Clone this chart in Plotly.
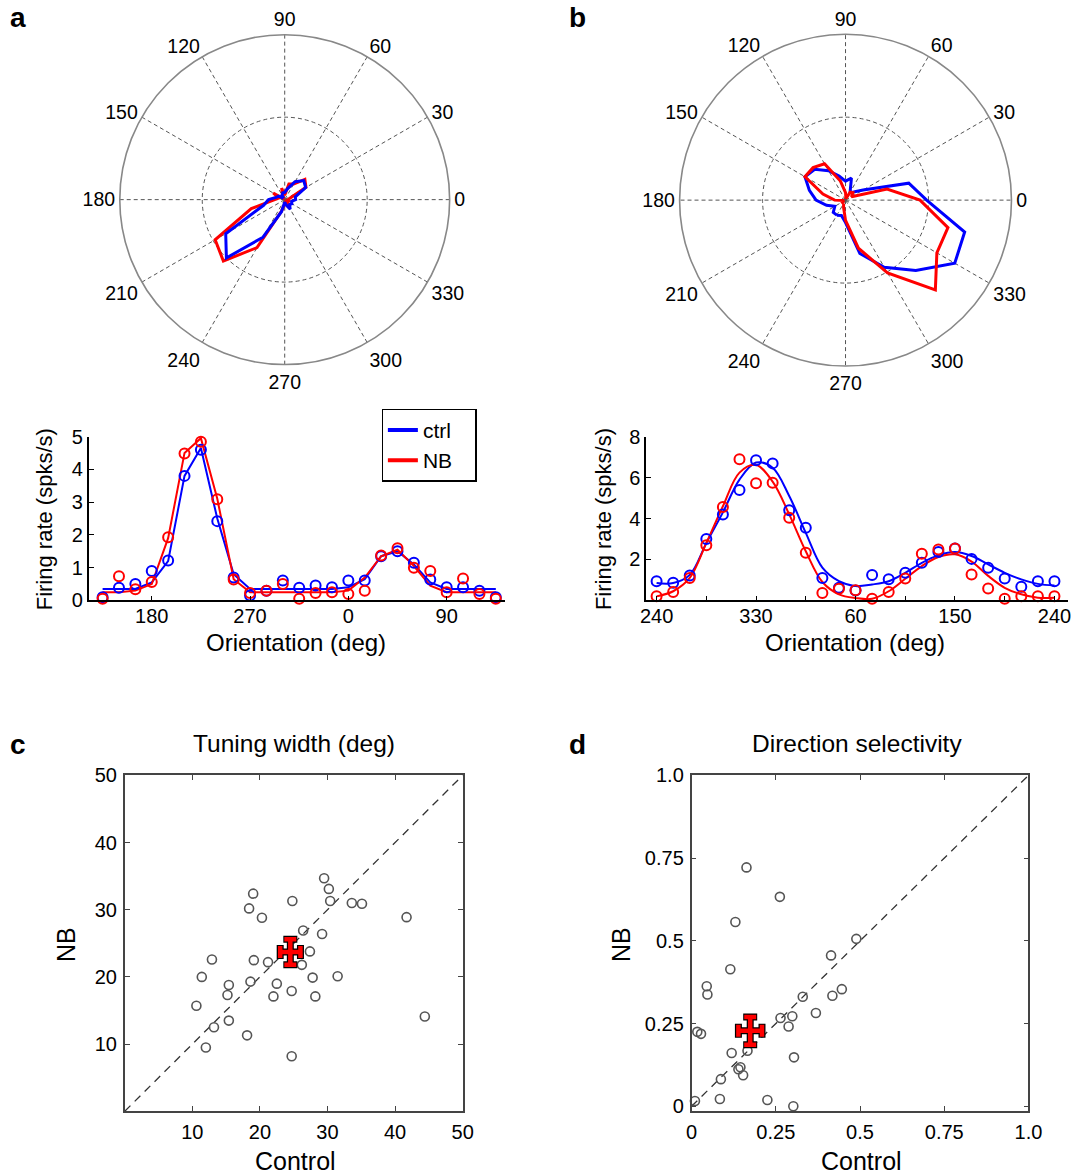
import plotly.graph_objects as go

# Figure size in CSS px and a calibration that maps positions measured on the
# reference picture to figure pixels (measured from the previous renders).
FW, FH = 1092, 1197
AX, AY, S = 6.2, 11.3, 0.982
FONT = "Liberation Sans, Arial, Helvetica, sans-serif"
BLUE, RED = "#0000ff", "#ff0000"
NBSP = "\u00a0"

# ---------------- data ----------------
# panel a : orientations (deg, unwrapped) and firing rates
dirs_a = [135, 150, 165, 180, 195, 210, 225, 240, 255, 270, 285, 300, 315,
          330, 345, 360, 375, 390, 405, 420, 435, 450, 465, 480, 495]
ctrl_a_pts = [0.10, 0.39, 0.50, 0.90, 1.22, 3.80, 4.60, 2.42, 0.70, 0.15, 0.30, 0.61, 0.39,
              0.46, 0.40, 0.61, 0.61, 1.35, 1.50, 1.15, 0.64, 0.40, 0.40, 0.30, 0.10]
nb_a_pts = [0.05, 0.74, 0.34, 0.56, 1.93, 4.48, 4.84, 3.09, 0.64, 0.23, 0.30, 0.50, 0.05,
            0.23, 0.25, 0.20, 0.30, 1.37, 1.59, 1.00, 0.90, 0.25, 0.67, 0.20, 0.05]
ctrl_a_fit = [0.35, 0.35, 0.35, 0.55, 1.20, 3.80, 4.65, 2.50, 0.80, 0.35, 0.35, 0.35, 0.35,
              0.35, 0.35, 0.40, 0.65, 1.35, 1.50, 1.10, 0.55, 0.35, 0.35, 0.35, 0.35]
nb_a_fit = [0.25, 0.25, 0.30, 0.50, 1.90, 4.50, 4.95, 3.10, 0.65, 0.25, 0.25, 0.25, 0.25,
            0.25, 0.25, 0.30, 0.70, 1.35, 1.55, 1.05, 0.45, 0.25, 0.25, 0.25, 0.25]
ticks_a = [180, 270, 360, 450]
ticktext_a = ["180", "270", "0", "90"]

# panel b
dirs_b = [240, 255, 270, 285, 300, 315, 330, 345, 360, 375, 390, 405, 420,
          435, 450, 465, 480, 495, 510, 525, 540, 555, 570, 585, 600]
ctrl_b_pts = [0.94, 0.86, 1.22, 3.00, 4.20, 5.39, 6.84, 6.69, 4.40, 3.55, 1.10, 0.62, 0.49,
              1.24, 1.03, 1.35, 1.84, 2.36, 2.54, 2.03, 1.60, 1.07, 0.67, 0.94, 0.94]
nb_b_pts = [0.21, 0.41, 1.10, 2.70, 4.56, 6.89, 5.72, 5.75, 4.04, 2.33, 0.37, 0.57, 0.50,
            0.08, 0.41, 1.07, 2.28, 2.49, 2.54, 1.27, 0.59, 0.08, 0.21, 0.21, 0.21]
ctrl_b_fit = [0.85, 0.85, 1.25, 2.80, 4.30, 5.90, 6.73, 6.48, 5.10, 3.30, 1.60, 0.94, 0.70,
              0.78, 0.94, 1.35, 1.84, 2.20, 2.36, 2.17, 1.76, 1.35, 1.03, 0.81, 0.73]
nb_b_fit = [0.20, 0.45, 1.10, 2.80, 4.60, 6.24, 6.61, 5.80, 4.20, 2.40, 0.90, 0.30, 0.12,
            0.08, 0.45, 1.06, 1.68, 2.12, 2.25, 1.90, 1.20, 0.62, 0.30, 0.13, 0.13]
ticks_b = [240, 330, 420, 510, 600]
ticktext_b = ["240", "330", "60", "150", "240"]
minor_b = [285, 375, 465, 555]

# legend
legend_names = ["ctrl", "NB"]
legend_colors = [BLUE, RED]

# polar plots
polar_angles = [0, 30, 60, 90, 120, 150, 180, 210, 240, 270, 300, 330]
rmax_a, rmax_b = 9.2, 9.0

# panel c : tuning width (deg)
tw_ctrl = [29.5, 19.0, 30.2, 24.8, 30.4, 33.6, 35.1, 18.4, 20.3, 41.7, 26.4, 29.2, 12.9, 19.1,
           21.2, 27.4, 26.2, 11.4, 27.8, 31.5, 18.6, 22.5, 15.4, 15.2, 24.7, 22.0, 28.2, 10.6,
           44.4, 15.4, 13.2, 18.1, 12.0, 24.7]
tw_nb = [34.7, 32.4, 33.1, 31.3, 31.3, 31.0, 30.9, 30.2, 28.8, 28.9, 26.9, 26.4, 22.6, 22.5,
         22.2, 23.8, 21.8, 20.0, 19.9, 20.1, 19.3, 19.0, 18.8, 17.3, 17.9, 17.1, 17.1, 15.7,
         14.1, 13.5, 12.5, 11.3, 9.5, 8.2]
tw_mean = [24.5, 23.7]
tw_sem = [1.5, 1.9]
tw_lim = [0, 50]
tw_ticks = [10, 20, 30, 40, 50]

# panel d : direction selectivity
ds_ctrl = [0.163, 0.262, 0.130, 0.489, 0.115, 0.414, 0.045, 0.047, 0.446, 0.418, 0.330, 0.369,
           0.299, 0.264, 0.288, 0.017, 0.028, 0.119, 0.166, 0.304, 0.145, 0.139, 0.153, 0.087,
           0.010, 0.084, 0.225, 0.302]
ds_nb = [0.722, 0.633, 0.557, 0.506, 0.414, 0.456, 0.363, 0.338, 0.354, 0.334, 0.331, 0.282,
         0.272, 0.267, 0.241, 0.225, 0.219, 0.161, 0.168, 0.148, 0.118, 0.112, 0.094, 0.082,
         0.016, 0.022, 0.019, 0.000]
ds_mean = [0.174, 0.228]
ds_sem = [0.035, 0.042]
ds_lim = [0, 1]
ds_ticks = [0, 0.25, 0.5, 0.75, 1.0]
ds_ticktext = ["0", "0.25", "0.5", "0.75", "1.0"]


# ---------------- helpers (reference-picture pixels -> paper fractions) ----------------
def px(x):
    return (x - AX) / S


def py(y):
    return (y - AY) / S


def clamp(v):
    return max(0.0, min(1.0, v))


def dx(a, b):
    return [clamp(px(a) / FW), clamp(px(b) / FW)]


def dy(top, bottom):
    return [clamp(1 - py(bottom) / FH), clamp(1 - py(top) / FH)]


def axis_range(t0, v0, t1, v1, left, right):
    """data range of an axis whose ticks v0, v1 sit at picture x t0, t1 and
    whose line runs from picture x `left` to `right`"""
    k = (v1 - v0) / (px(t1) - px(t0))
    return [v0 - (px(t0) - px(left)) * k, v1 + (px(right) - px(t1)) * k]


fig = go.Figure()


def polar_trace(dirs, vals, color, subplot):
    th = [d % 360 for d in dirs[:-1]] + [dirs[0] % 360]
    r = list(vals[:-1]) + [vals[0]]
    fig.add_trace(go.Scatterpolar(r=r, theta=th, mode="lines", subplot=subplot,
                                  line=dict(color=color, width=3), showlegend=False,
                                  hoverinfo="skip"))


polar_trace(dirs_a, nb_a_pts, RED, "polar")
polar_trace(dirs_a, ctrl_a_pts, BLUE, "polar")
polar_trace(dirs_b, ctrl_b_pts, BLUE, "polar2")
polar_trace(dirs_b, nb_b_pts, RED, "polar2")


def tuning(dirs, ctrl_pts, nb_pts, ctrl_fit, nb_fit, xa, ya, shape):
    for fit, col, nm in ((ctrl_fit, BLUE, "ctrl"), (nb_fit, RED, "NB")):
        fig.add_trace(go.Scatter(x=dirs, y=fit, mode="lines", xaxis=xa, yaxis=ya,
                                 line=dict(color=col, width=2, shape=shape), name=nm,
                                 showlegend=False, cliponaxis=False))
    for pts, col, nm in ((ctrl_pts, BLUE, "ctrl"), (nb_pts, RED, "NB")):
        fig.add_trace(go.Scatter(x=dirs, y=pts, mode="markers", xaxis=xa, yaxis=ya,
                                 marker=dict(symbol="circle-open", size=10, color=col,
                                             line=dict(width=2, color=col)),
                                 name=nm, showlegend=False, cliponaxis=False))


tuning(dirs_a, ctrl_a_pts, nb_a_pts, ctrl_a_fit, nb_a_fit, "x", "y", "linear")
tuning(dirs_b, ctrl_b_pts, nb_b_pts, ctrl_b_fit, nb_b_fit, "x2", "y2", "spline")

# legend-only entries (thick line samples as in the reference)
for nm, col in zip(legend_names, legend_colors):
    fig.add_trace(go.Scatter(x=[None], y=[None], mode="lines", xaxis="x", yaxis="y",
                             line=dict(color=col, width=4), name=nm + NBSP * 3,
                             showlegend=True))


def scatter_panel(xs, ys, mean, sem, lim, xa, ya):
    fig.add_trace(go.Scatter(x=lim, y=lim, mode="lines", xaxis=xa, yaxis=ya,
                             line=dict(color="#333333", width=1.3, dash="8px,6px"),
                             showlegend=False, hoverinfo="skip"))
    fig.add_trace(go.Scatter(x=xs, y=ys, mode="markers", xaxis=xa, yaxis=ya,
                             marker=dict(symbol="circle-open", size=9, color="#555555",
                                         line=dict(width=1.6, color="#555555")),
                             showlegend=False, cliponaxis=False))
    fig.add_trace(go.Scatter(x=[mean[0]], y=[mean[1]], mode="markers", xaxis=xa, yaxis=ya,
                             marker=dict(size=1, color="black"),
                             error_x=dict(type="data", array=[sem[0]], color="black",
                                          thickness=7, width=7),
                             error_y=dict(type="data", array=[sem[1]], color="black",
                                          thickness=7, width=7),
                             showlegend=False, cliponaxis=False))
    fig.add_trace(go.Scatter(x=[mean[0]], y=[mean[1]], mode="markers", xaxis=xa, yaxis=ya,
                             marker=dict(size=1, color=RED),
                             error_x=dict(type="data", array=[sem[0]], color=RED,
                                          thickness=4.5, width=6),
                             error_y=dict(type="data", array=[sem[1]], color=RED,
                                          thickness=4.5, width=6),
                             showlegend=False, cliponaxis=False))


scatter_panel(tw_ctrl, tw_nb, tw_mean, tw_sem, tw_lim, "x3", "y3")
scatter_panel(ds_ctrl, ds_nb, ds_mean, ds_sem, ds_lim, "x4", "y4")

# ---------------- layout ----------------
tick_font = dict(family=FONT, size=20, color="black")
polar_font = dict(family=FONT, size=19.5, color="black")


def polar_layout(xd, yd, rmax):
    return dict(
        domain=dict(x=xd, y=yd), bgcolor="white",
        angularaxis=dict(rotation=0, direction="counterclockwise", tickmode="array",
                         tickvals=polar_angles, ticktext=[str(a) for a in polar_angles],
                         showline=True, linecolor="#888888", linewidth=1.6,
                         showgrid=True, gridcolor="#555555", gridwidth=1.3,
                         griddash="4px,3px", ticks="", tickfont=polar_font),
        radialaxis=dict(range=[0, rmax], tickvals=[rmax / 2], showticklabels=False,
                        ticks="", showline=False, showgrid=True, gridcolor="#555555",
                        gridwidth=1.3, griddash="4px,3px"),
    )


line_ax = dict(showline=True, linecolor="black", linewidth=1.6, ticks="inside", ticklen=5,
               tickcolor="black", showgrid=False, zeroline=False, tickfont=tick_font,
               mirror=False)
box_ax = dict(showline=True, linecolor="#444444", linewidth=1.6, ticks="inside", ticklen=5,
              tickcolor="#444444", showgrid=False, zeroline=False, tickfont=tick_font,
              mirror="ticks", ticklabelstandoff=2)

fig.update_layout(
    width=FW, height=FH, margin=dict(l=0, r=0, t=0, b=0),
    paper_bgcolor="white", plot_bgcolor="white",
    font=dict(family=FONT, size=20, color="black"),
    polar=polar_layout(dx(120, 450), dy(35, 365), rmax_a),
    polar2=polar_layout(dx(680, 1012), dy(34.5, 366.5), rmax_b),
    xaxis=dict(line_ax, domain=dx(89, 505), range=axis_range(152, 180, 447, 450, 89, 505),
               tickvals=ticks_a, ticktext=ticktext_a, anchor="y", ticklabelstandoff=-3),
    yaxis=dict(line_ax, domain=dy(437, 601), range=[0, 5], tickvals=[0, 1, 2, 3, 4, 5],
               anchor="x"),
    xaxis2=dict(line_ax, domain=dx(646.6, 1069),
                range=axis_range(657, 240, 1055, 600, 646.6, 1069),
                tickvals=ticks_b, ticktext=ticktext_b, anchor="y2", ticklabelstandoff=-3,
                minor=dict(tickvals=minor_b, ticks="inside", ticklen=5, tickcolor="black")),
    yaxis2=dict(line_ax, domain=dy(437, 601), range=[0, 8], tickvals=[2, 4, 6, 8],
                anchor="x2"),
    xaxis3=dict(box_ax, domain=dx(125, 463), range=tw_lim, tickvals=tw_ticks, anchor="y3"),
    yaxis3=dict(box_ax, domain=dy(776, 1112), range=tw_lim, tickvals=tw_ticks, anchor="x3"),
    xaxis4=dict(box_ax, domain=dx(692, 1029), range=[ds_lim[0], ds_lim[1]], tickvals=ds_ticks,
                ticktext=ds_ticktext, anchor="y4"),
    yaxis4=dict(box_ax, domain=dy(776, 1112), range=[-0.015, ds_lim[1]], tickvals=ds_ticks,
                ticktext=ds_ticktext, anchor="x4"),
    legend=dict(x=px(382) / FW, y=1 - py(409) / FH, xanchor="left", yanchor="top",
                bordercolor="black", borderwidth=1.2, bgcolor="white",
                font=dict(family=FONT, size=21), itemwidth=30, tracegroupgap=0),
    showlegend=True,
)

ann = []


def text(x, y, s, size=24, bold=False, angle=0):
    ann.append(dict(x=px(x) / FW, y=1 - py(y) / FH, xref="paper", yref="paper",
                    text=("<b>" + s + "</b>") if bold else s,
                    showarrow=False, textangle=angle, xanchor="center", yanchor="middle",
                    font=dict(family=FONT, size=size, color="black")))


text(18, 18, "a", 28, True)
text(578, 18, "b", 28, True)
text(18, 745, "c", 28, True)
text(578, 745, "d", 28, True)
text(45, 520, "Firing rate (spks/s)", 22, angle=-90)
text(604, 520, "Firing rate (spks/s)", 22, angle=-90)
text(296, 643, "Orientation (deg)", 24)
text(855, 643, "Orientation (deg)", 24)
text(294, 744, "Tuning width (deg)", 24.5)
text(857, 744, "Direction selectivity", 24.5)
text(67, 945, "NB", 25, angle=-90)
text(622, 945, "NB", 25, angle=-90)
text(296, 1162, "Control", 25)
text(862, 1162, "Control", 25)
fig.update_layout(annotations=ann)

fig.write_html("out.html",
               config=dict(displayModeBar=False),
               post_script="document.body.style.margin='0px';"
                           "document.body.style.overflow='hidden';")
